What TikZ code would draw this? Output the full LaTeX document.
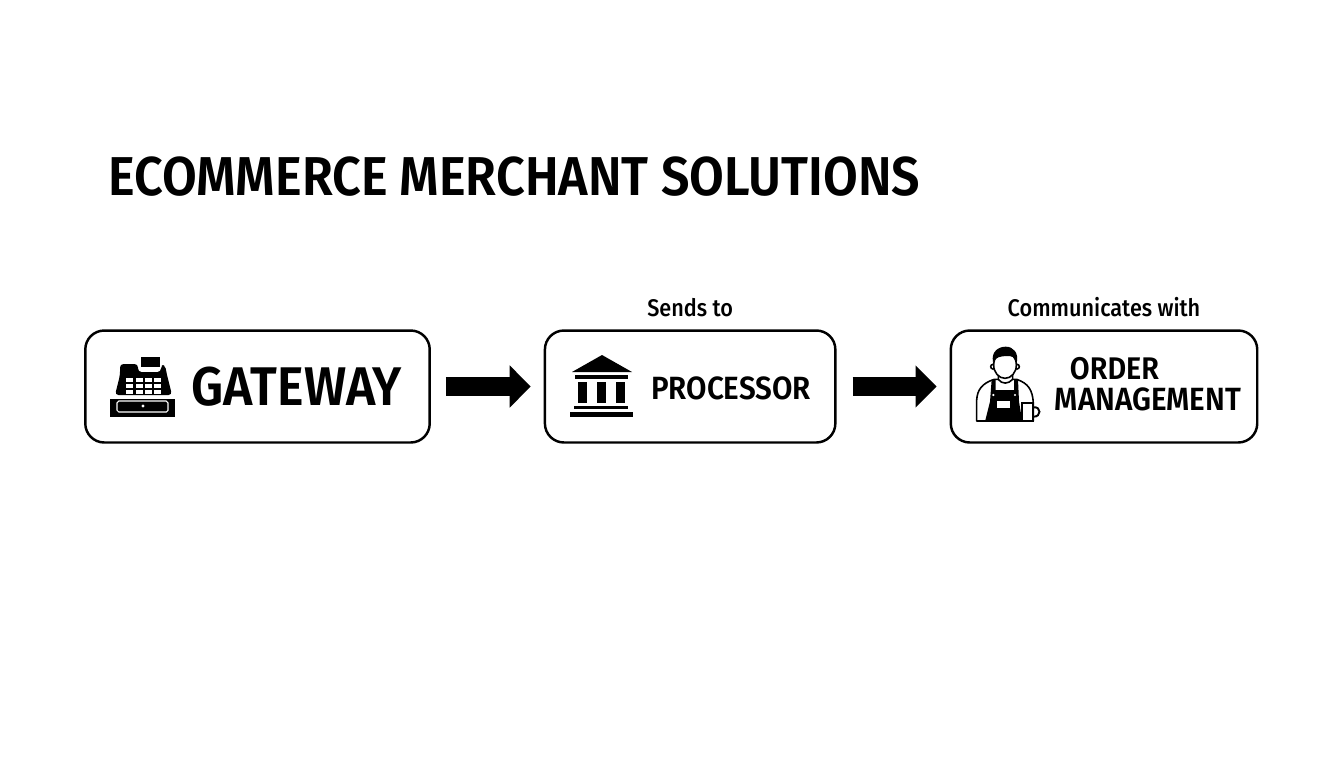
\documentclass[tikz,border=0pt]{standalone}
\usepackage{fontspec}
\usepackage{tikz}
\usetikzlibrary{arrows.meta, positioning}
\setmainfont{Fira Sans}
\newfontfamily\boldcond[FakeStretch=0.92]{Fira Sans SemiBold}
\newfontfamily\labelcond[FakeStretch=0.9]{Fira Sans Medium}

\tikzset{
    boxnode/.style={draw, line width=1.4pt, rounded corners=0.38cm, minimum height=2.24cm, inner sep=0pt, fill=white},
    flowarrow/.style={line width=0.38cm, -{Triangle[length=0.42cm, width=0.82cm]}, shorten >=0.26cm},
    toplabel/.style={font=\labelcond\fontsize{13.7}{15}\selectfont, inner sep=0pt},
    boxtext/.style={font=\boldcond\fontsize{#1}{#1}\selectfont, inner sep=0pt, align=center},
    register/.pic={
        \fill (141,357) rectangle (160,367);
        \fill[rounded corners=2pt] (115,395) -- (120,375) -- (120,364) -- (138,364) -- (138,372) -- (161,372) -- (161,365) -- (165,365) -- (167,375) -- (172,395) -- cycle;
        \foreach \row in {378,384,390}
            \foreach \col in {126,136,145,154}
                \fill[white] (\col,\row) rectangle ++(7,3.6);
        \fill (110,399) rectangle (175,417);
        \draw[white, line width=0.6pt, rounded corners=1pt] (117,401) rectangle (168,412);
        \fill[white] (143,406) circle (1.7);
    },
    bank/.pic={
        \fill (602,355) -- (632,372) -- (572,372) -- cycle;
        \fill (575,375) rectangle (628,379);
        \foreach \col in {578,597,616}
            \fill (\col,382) rectangle ++(8.5,21);
        \fill (574,406) rectangle (628,409);
        \fill (570,412) rectangle (633,417);
    },
    barista/.pic={
        \begin{scope}[x=0.006667cm, y=-0.006667cm, line width=0.9pt]
            % arms and shoulders
            \draw[fill=white, line join=round] (35,243) -- (35,180) .. controls (37,150) and (50,130) .. (88,118) -- (155,118) .. controls (190,130) and (203,150) .. (205,190) -- (205,243) -- cycle;
            % overalls
            \fill (80,118) -- (92,118) -- (92,150) -- (147,150) -- (147,118) -- (159,118) -- (162,185) -- (172,245) -- (60,245) -- (75,185) -- cycle;
            \fill[white] (95,182) rectangle (135,205);
            \fill[white] (85,165) circle (3.5) (150,165) circle (3.5);
            % neck and face
            \draw[fill=white] (100,100) -- (100,118) .. controls (110,133) and (130,133) .. (143,118) -- (143,100) -- cycle;
            \draw[fill=white] (84,80) circle (7) (156,80) circle (7);
            \draw[fill=white] (120,75) ellipse (34 and 40);
            \fill (84,66) .. controls (78,35) and (100,20) .. (122,20) .. controls (145,20) and (162,38) .. (155,70) .. controls (150,50) and (140,47) .. (122,48) .. controls (105,50) and (95,50) .. (84,66) -- cycle;
            % mug
            \draw[line width=1.1pt] (204,202) .. controls (230,198) and (230,232) .. (204,230);
            \draw[fill=white, line width=1.1pt] (172,190) -- (205,190) -- (205,243) -- (172,243) -- cycle;
        \end{scope}
    }
}

\begin{document}
\begin{tikzpicture}[x=0.02cm, y=-0.02cm]
    \useasboundingbox (0,0) rectangle (1344,768);

    \node[boxtext=31.15, anchor=west] (title) at (108,177) {ECOMMERCE MERCHANT SOLUTIONS};

    % boxes, left to right
    \node[boxnode, minimum width=6.89cm] (gateway) at (257.5,386.5) {};
    \node[boxnode, minimum width=5.81cm, right=2.255cm of gateway] (processor) {};
    \node[boxnode, minimum width=6.13cm, right=2.26cm of processor] (ordermgmt) {};

    \node[boxtext=31] (gatewaytext) at (297,387) {GATEWAY};
    \node[boxtext=18.3] (processortext) at (731,388) {PROCESSOR};
    \node[boxtext=18.3] (ordertext) at (1148,384) {\makebox[0pt]{\hspace*{-1.34cm}\fontsize{17.8}{18}\selectfont ORDER}\\[-0.5pt]MANAGEMENT};

    \node[toplabel, above=0.25cm of processor] (sendslabel) {Sends to};
    \node[toplabel, above=0.25cm of ordermgmt] (commlabel) {Communicates with};

    \draw[flowarrow, shorten <=0.3cm] (gateway) -- (processor);
    \draw[flowarrow, shorten <=0.32cm] (processor) -- (ordermgmt);

    \pic {register};
    \pic {bank};
    \pic at (965,340) {barista};
\end{tikzpicture}
\end{document}
